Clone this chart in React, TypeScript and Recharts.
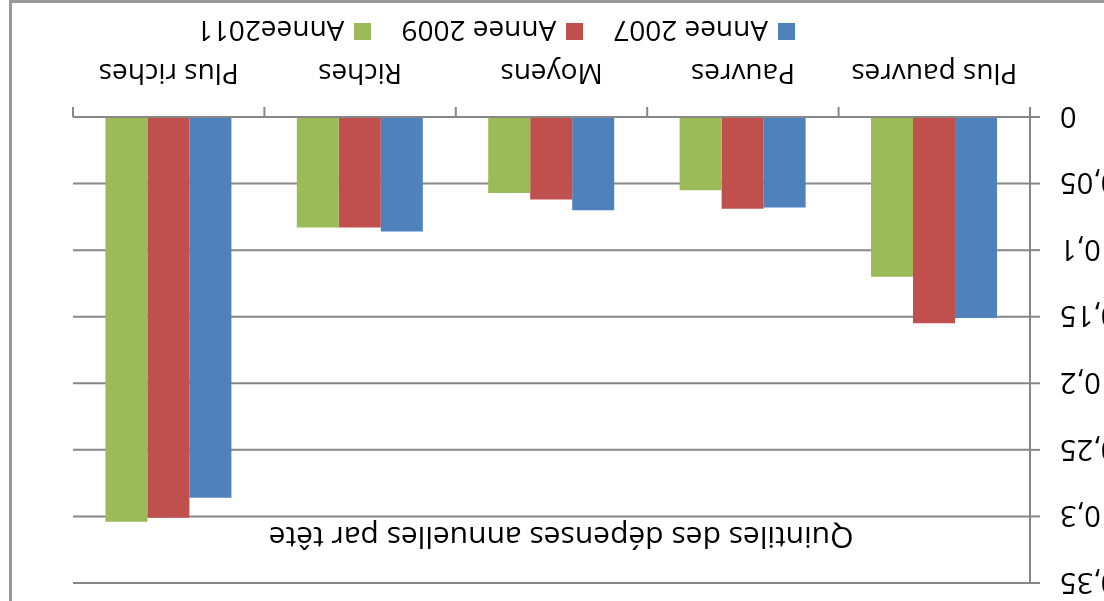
import { Bar, BarChart, CartesianGrid, XAxis, YAxis } from "recharts";

// the reference is an Excel column chart shown upside-down (rotated 180deg)
const quintiles = ["Plus pauvres", "Pauvres", "Moyens", "Riches", "Plus riches"];
const annee2007 = [0.151, 0.068, 0.07, 0.086, 0.286];
const annee2009 = [0.155, 0.069, 0.062, 0.083, 0.301];
const annee2011 = [0.12, 0.055, 0.057, 0.083, 0.304];
const yTicks = [0, 0.05, 0.1, 0.15, 0.2, 0.25, 0.3, 0.35];

const series = [
  { key: "a2007", name: "Annee 2007", color: "#4F81BD", values: annee2007 },
  { key: "a2009", name: "Annee 2009", color: "#C0504D", values: annee2009 },
  { key: "a2011", name: "Annee2011", color: "#9BBB59", values: annee2011 },
];

const data = quintiles.map((q, i) => {
  const row: Record<string, string | number> = { quintile: q };
  series.forEach((s) => (row[s.key] = s.values[i]));
  return row;
});

const W = 1104;
const H = 601;
const plotLeft = 74;
const plotRight = 1031;
const band = (plotRight - plotLeft) / quintiles.length;
const grey = "#878787";
const font = "'Open Sans', sans-serif";

const fmt = (v: number) => String(Math.round(v * 100) / 100).replace(".", ",");

function QuintileTick(props: any) {
  const { x, y, payload, index } = props;
  return (
    <g>
      <line x1={x - band / 2} x2={x - band / 2} y1={y} y2={y + 10} stroke={grey} strokeWidth={2} />
      {index === quintiles.length - 1 && (
        <line x1={x + band / 2} x2={x + band / 2} y1={y} y2={y + 10} stroke={grey} strokeWidth={2} />
      )}
      <text x={x} y={y + 53} textAnchor="middle" fontSize={28} fontFamily={font} fill="#000">
        {payload.value}
      </text>
    </g>
  );
}

export default function App() {
  return (
    <div
      style={{
        position: "fixed",
        left: 0,
        top: 0,
        width: W,
        height: H,
        overflow: "hidden",
        background: "#fff",
        transform: "rotate(180deg)",
        fontFamily: font,
      }}
    >
      <div
        style={{
          position: "absolute",
          left: -20,
          top: -20,
          width: 1115,
          height: 621,
          border: "3px solid #999",
          boxSizing: "border-box",
        }}
      />
      <div
        style={{
          position: "absolute",
          left: 0,
          width: 1086,
          top: 43,
          textAlign: "center",
          fontSize: 30,
          lineHeight: "40px",
          color: "#000",
        }}
      >
        Quintiles des dépenses annuelles par tête
      </div>
      <BarChart
        width={W}
        height={H}
        data={data}
        margin={{ top: 18, right: W - plotRight, bottom: 57, left: 0 }}
        barGap={0}
        barSize={42}
        style={{ position: "absolute", left: 0, top: 0 }}
      >
        <CartesianGrid vertical={false} stroke={grey} strokeWidth={2} />
        <XAxis
          dataKey="quintile"
          height={60}
          axisLine={{ stroke: grey, strokeWidth: 2 }}
          tickLine={false}
          tickSize={0}
          tickMargin={0}
          interval={0}
          tick={<QuintileTick />}
        />
        <YAxis
          width={plotLeft}
          domain={[0, 0.35]}
          ticks={yTicks}
          tickFormatter={fmt}
          axisLine={{ stroke: grey, strokeWidth: 2 }}
          tickLine={{ stroke: grey, strokeWidth: 2 }}
          tickSize={10}
          tickMargin={20}
          tick={{ fill: "#000", fontSize: 29, fontFamily: font }}
        />
        {series.map((s) => (
          <Bar key={s.key} dataKey={s.key} name={s.name} fill={s.color} isAnimationActive={false} />
        ))}
      </BarChart>
      <div
        style={{
          position: "absolute",
          left: 309,
          top: 550,
          display: "flex",
          alignItems: "center",
          fontSize: 28,
          lineHeight: "38px",
          color: "#000",
        }}
      >
        {series.map((s) => (
          <div key={s.key} style={{ display: "flex", alignItems: "center", marginRight: 30 }}>
            <span style={{ width: 17, height: 17, background: s.color, marginRight: 10 }} />
            <span>{s.name}</span>
          </div>
        ))}
      </div>
    </div>
  );
}
